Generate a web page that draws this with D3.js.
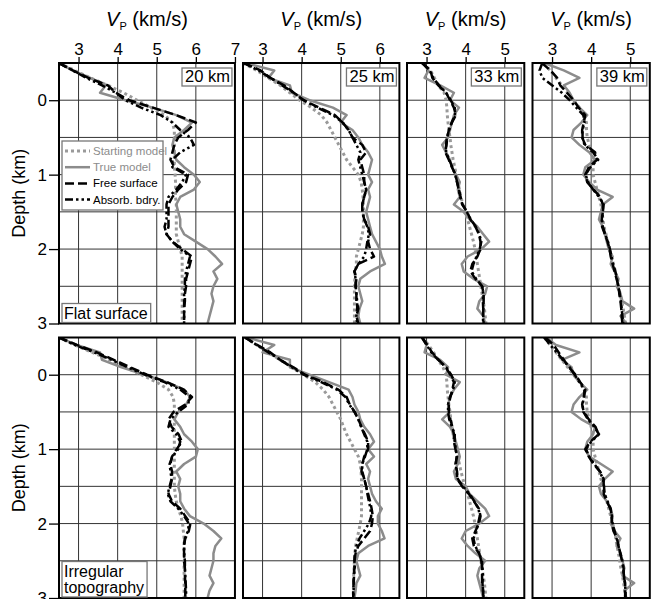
<!DOCTYPE html>
<html>
<head>
<meta charset="utf-8">
<script src="https://cdn.jsdelivr.net/npm/d3@7"></script>
<style>
  body { margin: 0; background: #fff; }
  text { font-family: "Liberation Sans", Arial, Helvetica, sans-serif; }
</style>
</head>
<body>
<svg id="chart" width="655" height="599"></svg>
<script>
// depth samples (km) shared by every profile
var depths = [-0.5,-0.4,-0.3,-0.2,-0.1,0,0.1,0.2,0.3,0.4,0.5,0.6,0.7,0.8,0.9,1,1.1,1.2,1.3,1.4,1.5,1.6,1.7,1.8,1.9,2,2.1,2.2,2.3,2.4,2.5,2.6,2.7,2.8,2.9,3];
var offsets = ["20 km", "25 km", "33 km", "39 km"];
var vpMax = [7, 6.5, 5.5, 5.5];
var vpTicks = [[3,4,5,6,7], [3,4,5,6], [3,4,5], [3,4,5]];
var depthTicks = [0, 1, 2, 3];
var legendNames = ["Starting model", "True model", "Free surface", "Absorb. bdry."];
var rowLabels = [["Flat surface"], ["Irregular", "topography"]];

// ---- flat surface ----
var start20f = [2.5,2.9,3.3,3.75,4.15, 4.5,4.85,5.2,5.4,5.45, 5.45,5.45,5.45,5.45,5.45, 5.47,5.48,5.48,5.48,5.5, 5.5,5.5,5.5,5.5,5.55, 5.6,5.65,5.65,5.65,5.65, 5.65,5.65,5.65,5.65,5.65, 5.65];
var true20f  = [2.5,2.85,3.3,3.7,3.55, 4.2,4.9,5.5,5.9,5.7, 5.45,5.4,5.45,5.5,5.7, 5.95,6.1,5.95,5.6,5.5, 5.55,5.6,5.6,5.7,6.0, 6.3,6.5,6.67,6.45,6.55, 6.45,6.4,6.45,6.4,6.35, 6.3];
var free20f  = [2.5,2.85,3.25,3.75,3.95, 4.3,4.9,5.5,6.0,5.8, 5.55,5.45,5.4,5.35,5.45, 5.8,5.75,5.55,5.4,5.3, 5.3,5.3,5.3,5.25,5.4, 5.65,5.9,5.85,5.8,5.75, 5.75,5.72,5.72,5.7,5.7, 5.7];
var abs20f   = [2.5,2.85,3.2,3.6,3.95, 4.2,4.6,5.1,5.4,5.6, 5.85,5.95,5.6,5.4,5.4, 5.75,5.65,5.5,5.3,5.25, 5.25,5.25,5.2,5.25,5.4, 5.6,5.85,5.8,5.75,5.72, 5.72,5.7,5.7,5.7,5.7, 5.7];

var start25f = [2.5,2.85,3.15,3.45,3.7, 3.95,4.25,4.5,4.65,4.75, 4.85,4.95,5.05,5.15,5.3, 5.45,5.52,5.55,5.57,5.58, 5.58,5.58,5.58,5.55,5.5, 5.45,5.4,5.4,5.37,5.36, 5.35,5.35,5.35,5.35,5.35, 5.35];
var true25f  = [2.55,3.3,3.15,3.7,3.75, 4.2,4.8,5.15,5.0,5.3, 5.45,5.55,5.7,5.8,5.75, 5.7,5.8,5.7,5.75,5.7, 5.65,5.7,5.75,5.8,5.9, 6.0,6.05,6.13,5.75,5.5, 5.45,5.5,5.55,5.48,5.45, 5.5];
var free25f  = [2.52,2.95,3.2,3.55,3.8, 4.05,4.45,4.85,5.05,5.2, 5.3,5.55,5.65,5.5,5.55, 5.6,5.6,5.65,5.6,5.55, 5.55,5.6,5.7,5.75,5.7, 5.75,5.85,5.45,5.35,5.4, 5.38,5.4,5.4,5.45,5.4, 5.45];
var abs25f   = [2.52,2.9,3.2,3.5,3.8, 4.05,4.4,4.8,5.05,5.2, 5.3,5.4,5.5,5.45,5.5, 5.55,5.6,5.65,5.6,5.55, 5.55,5.6,5.68,5.72,5.68, 5.65,5.6,5.45,5.35,5.38, 5.38,5.4,5.42,5.42,5.4, 5.42];

var start33f = [2.9,3.1,3.2,3.3,3.45, 3.5,3.52,3.53,3.55,3.57, 3.6,3.62,3.65,3.68,3.72, 3.76,3.8,3.84,3.88,3.93, 3.98,4.05,4.1,4.15,4.2, 4.24,4.27,4.3,4.33,4.36, 4.39,4.42,4.45,4.48,4.5, 4.52];
var true33f  = [2.9,3.05,2.95,3.35,3.7, 3.6,3.83,3.7,3.65,3.6, 3.55,3.4,3.5,3.6,3.65, 3.75,3.85,3.8,3.85,3.7, 3.95,4.1,4.3,4.45,4.6, 4.4,4.05,3.9,3.95,4.2, 4.55,4.5,4.35,4.3,4.45, 4.5];
var free33f  = [2.88,3.1,3.15,3.3,3.5, 3.6,3.7,3.75,3.65,3.57, 3.53,3.51,3.48,3.57,3.65, 3.74,3.78,3.83,3.87,3.91, 4.04,4.12,4.25,4.34,4.38, 4.38,4.3,4.17,4.12,4.25, 4.42,4.46,4.46,4.45,4.45, 4.46];
var abs33f   = [2.9,3.08,3.17,3.32,3.5, 3.62,3.72,3.73,3.64,3.58, 3.52,3.5,3.5,3.58,3.66, 3.73,3.78,3.82,3.86,3.92, 4.03,4.13,4.26,4.35,4.4, 4.36,4.28,4.2,4.15,4.27, 4.42,4.45,4.44,4.45,4.44, 4.45];

var start39f = [2.8,2.95,3.1,3.25,3.4, 3.55,3.7,3.82,3.88,3.88, 3.9,3.95,4.0,4.05,4.05, 4.05,4.1,4.15,4.2,4.25, 4.28,4.3,4.33,4.38,4.42, 4.47,4.52,4.57,4.62,4.67, 4.7,4.74,4.78,4.82,4.85, 4.88];
var true39f  = [2.8,3.3,3.7,3.3,3.45, 3.55,3.7,3.9,3.75,3.55, 3.5,3.7,3.95,4.1,3.85, 3.8,3.95,4.15,4.55,4.3, 4.25,4.2,4.3,4.35,4.4, 4.45,4.55,4.5,4.6,4.7, 4.65,4.75,4.8,5.1,4.75, 4.9];
var free39f  = [2.74,2.96,3.13,3.21,3.38, 3.55,3.68,3.85,3.81,3.77, 3.77,3.85,4.1,4.15,3.94, 3.85,3.9,4.06,4.23,4.3, 4.3,4.27,4.28,4.35,4.42, 4.47,4.5,4.55,4.6,4.65, 4.7,4.72,4.75,4.77,4.78, 4.8];
var abs39f   = [2.75,2.68,2.75,3.0,3.25, 3.45,3.62,3.8,3.83,3.78, 3.78,3.83,4.05,4.18,3.98, 3.86,3.92,4.05,4.2,4.32, 4.3,4.28,4.3,4.36,4.43, 4.48,4.52,4.56,4.62,4.66, 4.7,4.73,4.76,4.78,4.8, 4.82];

// ---- irregular topography ----
var start20t = [2.5,2.9,3.35,3.8,4.2, 4.6,5.0,5.3,5.42,5.45, 5.45,5.45,5.45,5.45,5.45, 5.45,5.45,5.45,5.45,5.45, 5.45,5.47,5.5,5.55,5.62, 5.66,5.68,5.7,5.7,5.7, 5.7,5.7,5.7,5.7,5.7, 5.7];
var true20t  = [2.5,2.95,3.55,3.6,4.1, 4.7,5.25,5.7,5.85,5.75, 5.55,5.45,5.6,5.7,5.9, 6.05,6.0,5.7,5.5,5.6, 5.55,5.6,5.6,5.7,5.85, 6.2,6.45,6.65,6.5,6.45, 6.45,6.4,6.35,6.45,6.35, 6.3];
var free20t  = [2.5,2.96,3.47,3.9,4.32, 4.75,5.26,5.69,5.9,5.73, 5.43,5.3,5.38,5.56,5.64, 5.51,5.39,5.35,5.39,5.39, 5.35,5.3,5.39,5.6,5.73, 5.86,5.82,5.73,5.69,5.7, 5.7,5.72,5.72,5.73,5.73, 5.73];
var abs20t   = [2.5,2.9,3.4,3.85,4.25, 4.7,5.2,5.6,5.85,5.8, 5.55,5.35,5.3,5.5,5.6, 5.55,5.4,5.33,5.35,5.38, 5.33,5.28,5.35,5.55,5.7, 5.82,5.8,5.72,5.7,5.7, 5.72,5.72,5.73,5.74,5.75, 5.75];

var start25t = [2.55,2.85,3.15,3.45,3.75, 4.05,4.35,4.55,4.7,4.8, 4.9,5.0,5.07,5.15,5.25, 5.35,5.45,5.5,5.52,5.53, 5.53,5.53,5.53,5.53,5.53, 5.5,5.46,5.42,5.38,5.36, 5.35,5.34,5.33,5.33,5.32, 5.32];
var true25t  = [2.6,3.3,3.0,3.7,3.7, 4.2,4.7,5.2,5.3,5.35, 5.45,5.5,5.6,5.75,5.85, 5.7,5.85,5.65,5.75,5.7, 5.75,5.8,5.9,6.05,5.95, 5.95,6.05,6.12,5.7,5.45, 5.4,5.45,5.5,5.4,5.38, 5.35];
var free25t  = [2.56,2.86,3.2,3.45,3.79, 4.09,4.55,4.94,5.15,5.23, 5.36,5.45,5.53,5.62,5.7, 5.7,5.6,5.55,5.53,5.6, 5.65,5.7,5.75,5.79,5.82, 5.8,5.75,5.6,5.45,5.38, 5.35,5.35,5.33,5.33,5.32, 5.32];
var abs25t   = [2.55,2.85,3.15,3.45,3.75, 4.05,4.5,4.9,5.12,5.22, 5.35,5.45,5.52,5.6,5.68, 5.68,5.62,5.55,5.55,5.6, 5.65,5.68,5.72,5.76,5.78, 5.72,5.6,5.48,5.4,5.36, 5.35,5.36,5.34,5.33,5.33, 5.32];

var start33t = [2.9,3.05,3.18,3.3,3.42, 3.5,3.52,3.53,3.55,3.57, 3.6,3.62,3.65,3.68,3.72, 3.76,3.8,3.84,3.88,3.93, 3.98,4.05,4.1,4.15,4.2, 4.24,4.27,4.3,4.33,4.36, 4.39,4.42,4.45,4.48,4.5, 4.52];
var true33t  = [2.9,3.0,2.95,3.35,3.55, 3.5,3.85,3.7,3.6,3.55, 3.6,3.4,3.6,3.7,3.75, 3.8,3.85,3.8,3.7,3.75, 4.0,4.1,4.3,4.5,4.6, 4.35,4.0,3.9,4.05,4.25, 4.5,4.35,4.3,4.35,4.4, 4.45];
var free33t  = [2.89,3.02,3.14,3.31,3.49, 3.61,3.7,3.66,3.61,3.57, 3.57,3.61,3.66,3.7,3.7, 3.74,3.78,3.74,3.78,3.78, 3.91,4.08,4.21,4.34,4.38, 4.34,4.25,4.17,4.21,4.34, 4.42,4.42,4.42,4.42,4.45, 4.45];
var abs33t   = [2.88,3.0,3.12,3.3,3.5, 3.63,3.72,3.68,3.6,3.55, 3.55,3.58,3.65,3.72,3.72, 3.75,3.77,3.75,3.77,3.8, 3.93,4.1,4.22,4.33,4.36, 4.32,4.27,4.2,4.24,4.35, 4.4,4.43,4.44,4.43,4.44, 4.46];

var start39t = [2.8,2.95,3.1,3.25,3.4, 3.55,3.7,3.82,3.88,3.88, 3.9,3.95,4.0,4.05,4.05, 4.05,4.1,4.15,4.2,4.25, 4.3,4.35,4.4,4.45,4.5, 4.55,4.6,4.63,4.66,4.7, 4.73,4.76,4.8,4.83,4.86, 4.88];
var true39t  = [2.85,3.1,3.7,3.25,3.5, 3.55,3.7,3.9,3.7,3.55, 3.5,3.75,4.1,4.05,3.9, 3.85,3.95,4.25,4.55,4.35, 4.2,4.25,4.4,4.5,4.55, 4.5,4.6,4.75,4.65,4.75, 4.8,4.85,4.8,5.1,4.85, 4.9];
var free39t  = [2.83,3.04,3.17,3.3,3.43, 3.6,3.72,3.85,3.81,3.77, 3.81,3.94,4.11,4.19,3.98, 3.85,3.94,4.06,4.23,4.32, 4.32,4.32,4.4,4.49,4.53, 4.53,4.57,4.66,4.7,4.74, 4.79,4.83,4.83,4.87,4.87, 4.87];
var abs39t   = [2.8,2.95,3.12,3.28,3.45, 3.58,3.7,3.83,3.82,3.78, 3.8,3.92,4.08,4.2,4.0, 3.87,3.95,4.08,4.22,4.3, 4.33,4.34,4.42,4.5,4.52, 4.55,4.6,4.65,4.7,4.75, 4.8,4.82,4.84,4.86,4.88, 4.88];

var rows = [
  [[start20f, true20f, free20f, abs20f], [start25f, true25f, free25f, abs25f],
   [start33f, true33f, free33f, abs33f], [start39f, true39f, free39f, abs39f]],
  [[start20t, true20t, free20t, abs20t], [start25t, true25t, free25t, abs25t],
   [start33t, true33t, free33t, abs33t], [start39t, true39t, free39t, abs39t]]
];

// line styles: starting, true, free surface, absorbing
var styles = [
  {color: "#9a9a9a", width: 3,   dash: "3,3"},
  {color: "#8c8c8c", width: 2.5, dash: null},
  {color: "#000",    width: 2.5, dash: "9,4"},
  {color: "#000",    width: 2.5, dash: "8,3,2.5,3,2.5,3"}
];

var unit = 39.1, vpMin = 2.5;
var panelLeft = [59, 243, 407, 532.5];
var rowY = [[63, 323.5], [337.5, 598]];

var svg = d3.select("#chart");
var defs = svg.append("defs");

rows.forEach(function(panels, r) {
  var y = d3.scaleLinear().domain([-0.5, 3]).range(rowY[r]);

  panels.forEach(function(series, p) {
    var x = d3.scaleLinear()
      .domain([vpMin, vpMax[p]])
      .range([panelLeft[p], panelLeft[p] + (vpMax[p] - vpMin) * unit]);
    var g = svg.append("g");

    var cid = "clip" + r + p;
    defs.append("clipPath").attr("id", cid).append("rect")
      .attr("x", x.range()[0]).attr("y", y.range()[0])
      .attr("width", x.range()[1] - x.range()[0])
      .attr("height", y.range()[1] - y.range()[0]);

    // grid
    g.selectAll(".vgrid")
      .data(vpTicks[p].filter(function(v) { return v < vpMax[p]; }))
      .enter().append("line")
      .attr("x1", function(d) { return x(d); }).attr("x2", function(d) { return x(d); })
      .attr("y1", y.range()[0]).attr("y2", y.range()[1])
      .attr("stroke", "#333").attr("stroke-width", 1);
    g.selectAll(".hgrid")
      .data([0, 0.5, 1, 1.5, 2, 2.5])
      .enter().append("line")
      .attr("y1", function(d) { return y(d); }).attr("y2", function(d) { return y(d); })
      .attr("x1", x.range()[0]).attr("x2", x.range()[1])
      .attr("stroke", "#333").attr("stroke-width", 1);

    // profiles
    var line = d3.line()
      .x(function(d) { return x(d[0]); })
      .y(function(d) { return y(d[1]); });
    var curves = g.append("g").attr("clip-path", "url(#" + cid + ")");
    series.forEach(function(vals, s) {
      curves.append("path")
        .datum(d3.zip(vals, depths))
        .attr("d", line)
        .attr("fill", "none")
        .attr("stroke", styles[s].color)
        .attr("stroke-width", styles[s].width)
        .attr("stroke-dasharray", styles[s].dash)
        .attr("stroke-linejoin", "round");
    });

    // frame
    g.append("rect")
      .attr("x", x.range()[0]).attr("y", y.range()[0])
      .attr("width", x.range()[1] - x.range()[0])
      .attr("height", y.range()[1] - y.range()[0])
      .attr("fill", "none").attr("stroke", "#000").attr("stroke-width", 2);

    // top axis + title on first row
    if (r == 0) {
      var ax = g.append("g")
        .attr("transform", "translate(0," + y.range()[0] + ")")
        .call(d3.axisTop(x).tickValues(vpTicks[p]).tickSize(6).tickPadding(2.5).tickFormat(d3.format("d")));
      ax.select(".domain").remove();
      ax.selectAll("line").attr("stroke-width", 1.3);
      ax.selectAll("text").attr("font-size", 17).attr("fill", "#000")
        .style("font-family", "'Liberation Sans', Arial, sans-serif");

      var t = g.append("text")
        .attr("x", (x.range()[0] + x.range()[1]) / 2)
        .attr("y", 26)
        .attr("text-anchor", "middle")
        .attr("font-size", 20);
      t.append("tspan").attr("font-style", "italic").text("V");
      t.append("tspan").attr("font-size", 11).attr("dy", 4).text("P");
      t.append("tspan").attr("dy", -4).text(" (km/s)");

      // offset label box
      var ol = g.append("g");
      var olText = ol.append("text")
        .attr("x", x.range()[1] - 5)
        .attr("y", y.range()[0] + 19)
        .attr("text-anchor", "end")
        .attr("font-size", 16.5)
        .text(offsets[p]);
      var bb = olText.node().getBBox();
      ol.insert("rect", "text")
        .attr("x", bb.x - 3).attr("y", y.range()[0] + 5)
        .attr("width", bb.width + 5).attr("height", 18)
        .attr("fill", "#fff").attr("stroke", "#777").attr("stroke-width", 1.3);
    }

    // depth axis on first column
    if (p == 0) {
      var ay = g.append("g")
        .attr("transform", "translate(" + x.range()[0] + ",0)")
        .call(d3.axisLeft(y).tickValues(depthTicks).tickSize(10).tickPadding(2).tickFormat(d3.format("d")));
      ay.select(".domain").remove();
      ay.selectAll("line").attr("stroke-width", 1.3);
      ay.selectAll("text").attr("font-size", 17).attr("fill", "#000")
        .style("font-family", "'Liberation Sans', Arial, sans-serif");

      var cy = (y.range()[0] + y.range()[1]) / 2;
      g.append("text")
        .attr("transform", "translate(25," + cy + ") rotate(-90)")
        .attr("text-anchor", "middle")
        .attr("font-size", 18)
        .text("Depth (km)");

      // row label box
      var lines = rowLabels[r];
      var lb = g.append("g");
      lines.forEach(function(s, i) {
        lb.append("text")
          .attr("x", x.range()[0] + 5)
          .attr("y", y.range()[1] - 5 - (lines.length - 1 - i) * 16.5)
          .attr("font-size", 16)
          .text(s);
      });
      var lbb = lb.node().getBBox();
      lb.insert("rect", "text")
        .attr("x", x.range()[0] + 3).attr("y", lbb.y - 1)
        .attr("width", lbb.width + 5).attr("height", y.range()[1] - 1 - (lbb.y - 1))
        .attr("fill", "#fff").attr("stroke", "#777").attr("stroke-width", 1.3);

      // legend in the flat-surface panel
      if (r == 0) {
        var lg = g.append("g");
        lg.append("rect")
          .attr("x", 62).attr("y", 141).attr("width", 101).attr("height", 69)
          .attr("fill", "#fff").attr("stroke", "#777").attr("stroke-width", 1.3);
        legendNames.forEach(function(name, i) {
          var ly = 151 + i * 16.2;
          lg.append("line")
            .attr("x1", 65).attr("x2", 90).attr("y1", ly).attr("y2", ly)
            .attr("stroke", styles[i].color)
            .attr("stroke-width", styles[i].width)
            .attr("stroke-dasharray", styles[i].dash);
          lg.append("text")
            .attr("x", 93).attr("y", ly + 4)
            .attr("font-size", 11.5)
            .attr("fill", i < 2 ? "#8c8c8c" : "#000")
            .text(name);
        });
      }
    }
  });
});
</script>
</body>
</html>
